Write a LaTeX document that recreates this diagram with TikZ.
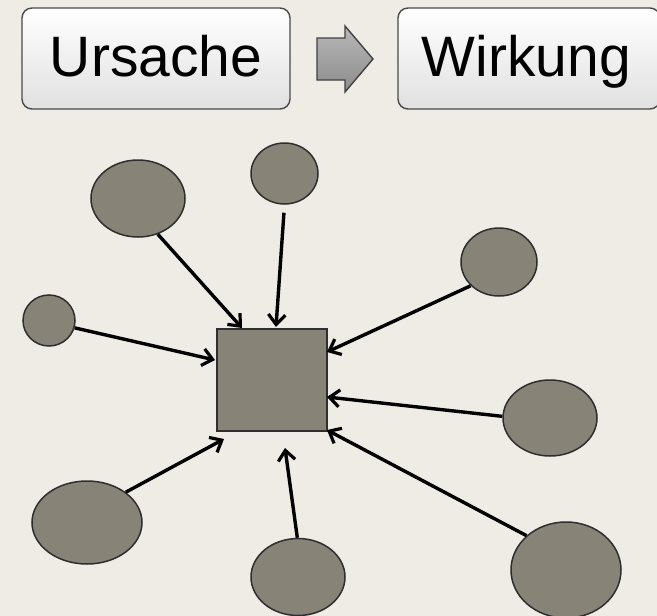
\documentclass[tikz,border=0pt]{standalone}
\usepackage{fontspec}
\setmainfont{Liberation Sans}
\usetikzlibrary{shapes.geometric,arrows.meta}
\definecolor{bg}{HTML}{EEECE4}
\definecolor{blobfill}{HTML}{878377}
\definecolor{blobline}{HTML}{2E2E2E}
\definecolor{boxline}{HTML}{4A4A4A}
\tikzset{
  blob/.style={ellipse, draw=blobline, fill=blobfill, line width=1.5pt, inner sep=0pt},
  center/.style={rectangle, draw=blobline, fill=blobfill, line width=2pt, inner sep=0pt},
  topbox/.style={rectangle, rounded corners=10pt, draw=boxline, line width=1.4pt,
    top color=white, bottom color=black!12, inner sep=0pt,
    minimum height=101pt, font=\fontsize{57}{60}\selectfont,
    text height=41.5pt, text depth=6.5pt},
  conn/.style={-{Straight Barb[length=10pt,width=17pt,line width=3.2pt]}, line width=3.4pt, black},
  bigarrow/.style={draw=black!75, line width=1.4pt, top color=black!28, bottom color=black!45}
}
\begin{document}
\begin{tikzpicture}[x=1pt,y=-1pt]
\fill[bg] (0,0) rectangle (657,616);
\useasboundingbox (0,0) rectangle (657,616);
% top boxes
\node[topbox, minimum width=268pt] (u) at (156,58.5) {Ursache};
\node[topbox, minimum width=262pt] (w) at (529,58.5) {\hspace*{-5pt}Wirkung};
\path[bigarrow] (317,38) -- (345,38) -- (345,26) -- (373,59) -- (345,92) -- (345,80) -- (317,80) -- cycle;
% centre square
\node[center, minimum width=110pt, minimum height=102pt] (sq) at (272,379.5) {};
% ellipses
\node[blob, minimum width=94pt, minimum height=77pt] (e1) at (138,198.5) {};
\node[blob, minimum width=67pt, minimum height=61pt] (e2) at (284.5,173.5) {};
\node[blob, minimum width=76pt, minimum height=68pt] (e3) at (499,262) {};
\node[blob, minimum width=52pt, minimum height=51pt] (e4) at (49,320.5) {};
\node[blob, minimum width=94pt, minimum height=76pt] (e5) at (550,418) {};
\node[blob, minimum width=110pt, minimum height=83pt] (e6) at (87,522.5) {};
\node[blob, minimum width=94pt, minimum height=77pt] (e7) at (298,577) {};
\node[blob, minimum width=110pt, minimum height=96pt] (e8) at (566,570) {};
% arrow targets
\coordinate (t1) at (242,328);
\coordinate (t2) at (276,327);
\coordinate (t3) at (327,352);
\coordinate (t4) at (215,360);
\coordinate (t5) at (327,397);
\coordinate (t6) at (224,439);
\coordinate (t7) at (285,448);
\coordinate (t8) at (327,430);
% connectors
\draw[conn] (e1.-61.4) -- (t1);
\draw[conn, shorten <=8pt] (e2.south) -- (t2);
\draw[conn] (e3.-140.6) -- (t3);
\draw[conn] (e4.-16.7) -- (t4);
\draw[conn] (e5.178.8) -- (t5);
\draw[conn] (e6.38) -- (t6);
\draw[conn] (e7.91.5) -- (t7);
\draw[conn] (e8.139.8) -- (t8);
\end{tikzpicture}
\end{document}
